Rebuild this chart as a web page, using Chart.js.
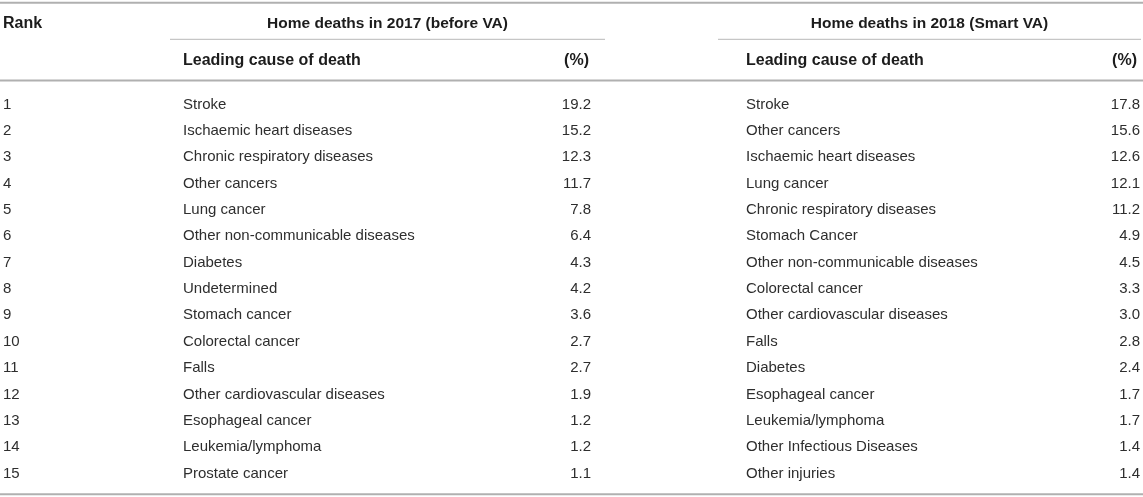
<!DOCTYPE html>
<html>
<head>
<meta charset="utf-8">
<script src="https://cdn.jsdelivr.net/npm/chart.js@4/dist/chart.umd.min.js"></script>
<style>
  html, body { margin: 0; padding: 0; background: #fff; }
  .tablo { width: 1143px; height: 497px; position: relative; }
</style>
</head>
<body>
<div class="tablo"><canvas id="tablo"></canvas></div>
<script>
const ranks = [1, 2, 3, 4, 5, 6, 7, 8, 9, 10, 11, 12, 13, 14, 15];

const causes2017 = [
  'Stroke', 'Ischaemic heart diseases', 'Chronic respiratory diseases', 'Other cancers',
  'Lung cancer', 'Other non-communicable diseases', 'Diabetes', 'Undetermined',
  'Stomach cancer', 'Colorectal cancer', 'Falls', 'Other cardiovascular diseases',
  'Esophageal cancer', 'Leukemia/lymphoma', 'Prostate cancer'
];
const pct2017 = [19.2, 15.2, 12.3, 11.7, 7.8, 6.4, 4.3, 4.2, 3.6, 2.7, 2.7, 1.9, 1.2, 1.2, 1.1];

const causes2018 = [
  'Stroke', 'Other cancers', 'Ischaemic heart diseases', 'Lung cancer',
  'Chronic respiratory diseases', 'Stomach Cancer', 'Other non-communicable diseases',
  'Colorectal cancer', 'Other cardiovascular diseases', 'Falls', 'Diabetes',
  'Esophageal cancer', 'Leukemia/lymphoma', 'Other Infectious Diseases', 'Other injuries'
];
const pct2018 = [17.8, 15.6, 12.6, 12.1, 11.2, 4.9, 4.5, 3.3, 3.0, 2.8, 2.4, 1.7, 1.7, 1.4, 1.4];

const groupTitles = ['Home deaths in 2017 (before VA)', 'Home deaths in 2018 (Smart VA)'];
const colTitles = ['Rank', 'Leading cause of death', '(%)'];

// kolon konumlari (x ekseni birimi), satirlar y ekseninde sira no
const kolon = {
  rank: 3, neden: [183, 746], yuzde: [591, 1140], yuzdeBaslik: [589, 1137],
  grupBas: [170, 718], grupSon: [605, 1141]
};
const satir = { ust: -2.818, baslik: -2.059, grupCizgi: -1.429, altBaslik: -0.681, kalin: 0.135, alt: 15.839 };

const yaziBoy = 15, baslikBoy = 16, grupBoy = 15.5;
const yaziFont = yaziBoy + 'px "Liberation Sans", Arial, sans-serif';
const kalinFont = 'bold ' + baslikBoy + 'px "Liberation Sans", Arial, sans-serif';
const grupFont = 'bold ' + grupBoy + 'px "Liberation Sans", Arial, sans-serif';

const tabloPlugin = {
  id: 'tabloYazilari',
  afterDatasetsDraw(chart) {
    const { ctx, scales: { x, y } } = chart;
    const px = v => x.getPixelForValue(v);
    const py = v => y.getPixelForValue(v);

    const cizgi = (x1, x2, yy, renk, kalinlik) => {
      ctx.save();
      ctx.strokeStyle = renk;
      ctx.lineWidth = kalinlik;
      ctx.beginPath();
      ctx.moveTo(px(x1), py(yy));
      ctx.lineTo(px(x2), py(yy));
      ctx.stroke();
      ctx.restore();
    };
    // orta noktayi buyuk harf ortasina gore hizala
    const yaz = (metin, xx, yy, hiza, boy) => {
      ctx.textAlign = hiza;
      ctx.fillText(metin, xx, yy + boy * 0.358);
    };

    cizgi(0, 1143, satir.ust, '#b0b0b0', 2);
    cizgi(0, 1143, satir.kalin, '#b0b0b0', 2);
    cizgi(0, 1143, satir.alt, '#b0b0b0', 2);
    [0, 1].forEach(g => cizgi(kolon.grupBas[g], kolon.grupSon[g], satir.grupCizgi, '#c6c6c6', 1.2));

    ctx.save();
    ctx.textBaseline = 'alphabetic';
    ctx.fillStyle = '#1c1c1c';
    ctx.font = kalinFont;
    yaz(colTitles[0], px(kolon.rank), py(satir.baslik), 'left', baslikBoy);
    [0, 1].forEach(g => {
      ctx.font = grupFont;
      yaz(groupTitles[g], px((kolon.grupBas[g] + kolon.grupSon[g]) / 2), py(satir.baslik), 'center', grupBoy);
      ctx.font = kalinFont;
      yaz(colTitles[1], px(kolon.neden[g]), py(satir.altBaslik), 'left', baslikBoy);
      yaz(colTitles[2], px(kolon.yuzdeBaslik[g]), py(satir.altBaslik), 'right', baslikBoy);
    });

    ctx.font = yaziFont;
    ctx.fillStyle = '#2e2e2e';
    const nedenler = [causes2017, causes2018];
    chart.data.datasets.forEach((ds, g) => {
      const meta = chart.getDatasetMeta(g);
      meta.data.forEach((nokta, i) => {
        yaz(ds.data[i].v.toFixed(1), nokta.x, nokta.y, 'right', yaziBoy);
        yaz(nedenler[g][i], px(kolon.neden[g]), nokta.y, 'left', yaziBoy);
        if (g === 0) yaz(String(ranks[i]), px(kolon.rank), nokta.y, 'left', yaziBoy);
      });
    });
    ctx.restore();
  }
};

new Chart(document.getElementById('tablo'), {
  type: 'scatter',
  data: {
    datasets: [
      { label: '2017', data: ranks.map((r, i) => ({ x: kolon.yuzde[0], y: r, v: pct2017[i] })), pointRadius: 0 },
      { label: '2018', data: ranks.map((r, i) => ({ x: kolon.yuzde[1], y: r, v: pct2018[i] })), pointRadius: 0 }
    ]
  },
  options: {
    responsive: true,
    maintainAspectRatio: false,
    animation: false,
    layout: { padding: 0 },
    plugins: { legend: { display: false }, tooltip: { enabled: false } },
    scales: {
      x: { type: 'linear', min: 0, max: 1143, display: false },
      y: { type: 'linear', min: -2.920, max: 15.941, reverse: true, display: false }
    }
  },
  plugins: [tabloPlugin]
});
</script>
</body>
</html>
